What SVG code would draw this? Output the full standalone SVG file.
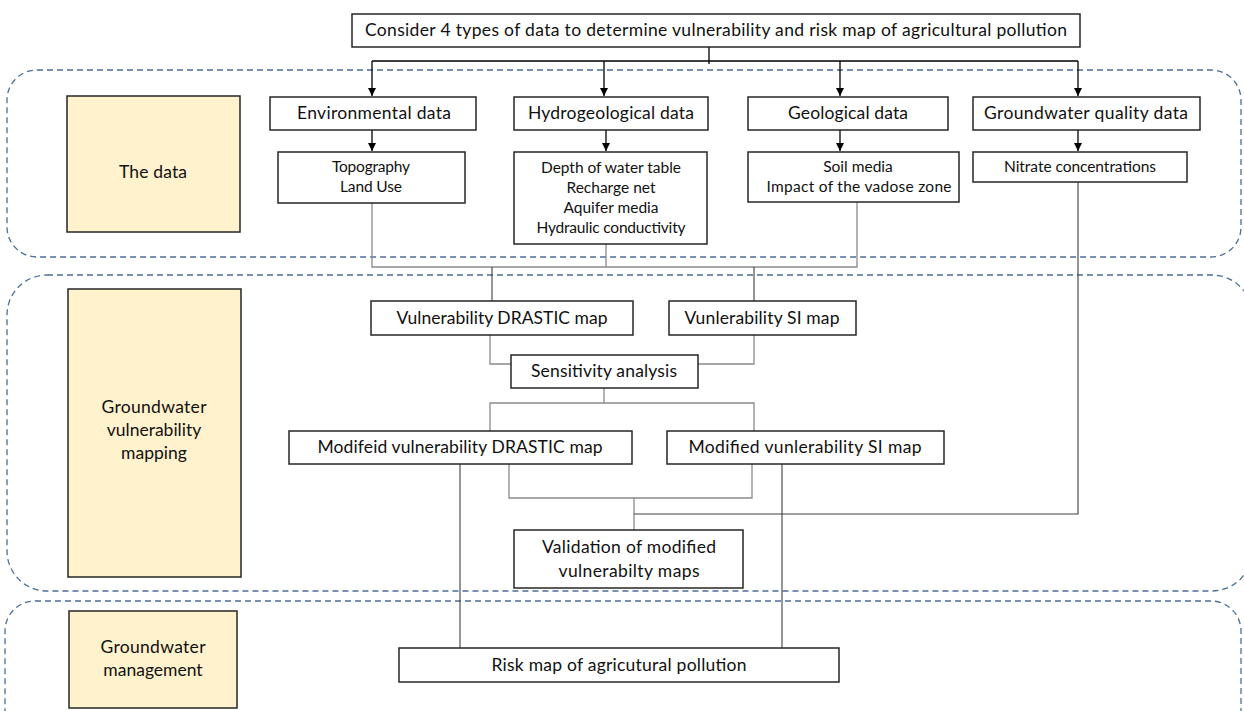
<svg xmlns="http://www.w3.org/2000/svg" width="1244" height="711" viewBox="0 0 1244 711">
<style>
.region{fill:none;stroke:#4a6f96;stroke-width:1.3;stroke-dasharray:6 4}
.box{fill:#fff;stroke:#262626;stroke-width:1.5}
.lbl{fill:#fff2cc;stroke:#262626;stroke-width:1.5}
text{font-family:Lato,"Open Sans","Liberation Sans",sans-serif;fill:#111;text-anchor:middle}
.t16{font-size:17.5px}
.t14{font-size:15.5px}
.arr{fill:none;stroke:#000;stroke-width:1.3}
.g{fill:none;stroke:#8a8a8a;stroke-width:1.3}
.d{fill:none;stroke:#404040;stroke-width:1.1}
</style>
<defs>
<marker id="ah" viewBox="0 0 10 10" refX="10" refY="5" markerWidth="8" markerHeight="8" markerUnits="userSpaceOnUse" orient="auto">
<path d="M0,0 L10,5 L0,10 z" fill="#000"/>
</marker>
</defs>
<rect class="region" x="7" y="70" width="1234" height="187" rx="30"/>
<rect class="region" x="7" y="275" width="1245" height="316" rx="40"/>
<rect class="region" x="5" y="601" width="1236" height="140" rx="30"/>
<g id="connectors">
<path class="arr" d="M709,47 V64 M372,61 H1078"/>
<path class="arr" d="M372,61 V96" marker-end="url(#ah)"/>
<path class="arr" d="M604,61 V96" marker-end="url(#ah)"/>
<path class="arr" d="M840,61 V96" marker-end="url(#ah)"/>
<path class="arr" d="M1078,61 V96" marker-end="url(#ah)"/>
<path class="arr" d="M372,130 V151" marker-end="url(#ah)"/>
<path class="arr" d="M606,130 V151" marker-end="url(#ah)"/>
<path class="arr" d="M840,130 V151" marker-end="url(#ah)"/>
<path class="arr" d="M1078,130 V151" marker-end="url(#ah)"/>
<path class="g" d="M372,203 V267 H857 V202 M606,244 V267"/>
<path class="d" d="M492,267 V301 M754,267 V301"/>
<path class="g" d="M490,335 V364 H511 M754,335 V364 H698"/>
<path class="g" d="M604,388 V403 M490,431 V403 H754 V431"/>
<path class="g" d="M509,464 V498 H752 V464 M634,498 V530"/>
<path class="d" d="M634,514 H1078 V182"/>
<path class="d" d="M460,464 V648 M782,464 V648"/>
</g>
<g id="top"><rect class="box" x="352" y="14" width="728" height="33"/><text class="t16" x="716" y="36" textLength="702">Consider 4 types of data to determine vulnerability and risk map of agricultural pollution</text></g>
<g id="lbl-data"><rect class="lbl" x="67" y="96" width="173" height="136"/><text class="t16" x="153" y="178" textLength="68">The data</text></g>
<g id="lbl-gvm"><rect class="lbl" x="68" y="289" width="173" height="288"/><text class="t16" x="154" y="413" textLength="105">Groundwater</text><text class="t16" x="154" y="436">vulnerability</text><text class="t16" x="154" y="459">mapping</text></g>
<g id="lbl-gm"><rect class="lbl" x="69" y="611" width="168" height="97"/><text class="t16" x="153" y="653" textLength="105">Groundwater</text><text class="t16" x="153" y="676">management</text></g>
<g id="env"><rect class="box" x="270" y="97" width="206" height="33"/><text class="t16" x="374" y="119" textLength="154">Environmental data</text></g>
<g id="hydro"><rect class="box" x="514" y="97" width="194" height="33"/><text class="t16" x="611" y="119" textLength="166">Hydrogeological data</text></g>
<g id="geo"><rect class="box" x="748" y="97" width="200" height="33"/><text class="t16" x="848" y="119" textLength="120">Geological data</text></g>
<g id="gwq"><rect class="box" x="973" y="97" width="227" height="33"/><text class="t16" x="1086" y="119" textLength="204">Groundwater quality data</text></g>
<g id="env-sub"><rect class="box" x="278" y="152" width="187" height="51"/><text class="t14" x="371" y="172" textLength="78">Topography</text><text class="t14" x="371" y="192" textLength="62">Land Use</text></g>
<g id="hydro-sub"><rect class="box" x="514" y="152" width="193" height="92"/><text class="t14" x="611" y="173" textLength="140">Depth of water table</text><text class="t14" x="611" y="193">Recharge net</text><text class="t14" x="611" y="213">Aquifer media</text><text class="t14" x="611" y="233" textLength="149">Hydraulic conductivity</text></g>
<g id="geo-sub"><rect class="box" x="748" y="152" width="211" height="50"/><text class="t14" x="858" y="172">Soil media</text><text class="t14" x="859" y="192" textLength="185">Impact of the vadose zone</text></g>
<g id="nitrate"><rect class="box" x="973" y="152" width="214" height="30"/><text class="t14" x="1080" y="172" textLength="152">Nitrate concentrations</text></g>
<g id="v-drastic"><rect class="box" x="371" y="301" width="262" height="34"/><text class="t16" x="502" y="324" textLength="211">Vulnerability DRASTIC map</text></g>
<g id="v-si"><rect class="box" x="669" y="301" width="187" height="34"/><text class="t16" x="762" y="324" textLength="155">Vunlerability SI map</text></g>
<g id="sens"><rect class="box" x="511" y="355" width="187" height="33"/><text class="t16" x="604" y="377" textLength="146">Sensitivity analysis</text></g>
<g id="m-drastic"><rect class="box" x="289" y="431" width="343" height="33"/><text class="t16" x="460" y="453" textLength="285">Modifeid vulnerability DRASTIC map</text></g>
<g id="m-si"><rect class="box" x="667" y="431" width="277" height="33"/><text class="t16" x="805" y="453" textLength="233">Modified vunlerability SI map</text></g>
<g id="valid"><rect class="box" x="514" y="530" width="229" height="58"/><text class="t16" x="629" y="553" textLength="174">Validation of modified</text><text class="t16" x="629" y="577" textLength="141">vulnerabilty maps</text></g>
<g id="risk"><rect class="box" x="399" y="648" width="440" height="34"/><text class="t16" x="619" y="671" textLength="255">Risk map of agricutural pollution</text></g>
</svg>
